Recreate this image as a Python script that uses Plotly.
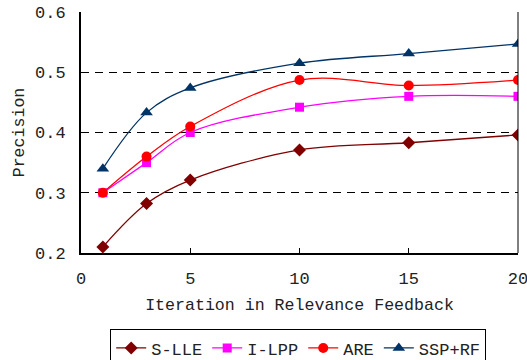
import plotly.graph_objects as go

iterations = [1, 3, 5, 10, 15, 20]
s_lle = [0.21, 0.282, 0.321, 0.371, 0.383, 0.396]
i_lpp = [0.30, 0.35, 0.40, 0.442, 0.46, 0.46]
are = [0.30, 0.36, 0.41, 0.487, 0.478, 0.487]
ssp_rf = [0.34, 0.433, 0.474, 0.515, 0.531, 0.547]

series = [
    ("S-LLE", s_lle, "#800000", "diamond", 10),
    ("I-LPP", i_lpp, "#FF00FF", "square", 9),
    ("ARE", are, "#FF0000", "circle", 10),
    ("SSP+RF", ssp_rf, "#003366", "triangle-up", 11),
]

FONT = "Liberation Mono"

fig = go.Figure()
for name, vals, color, sym, size in series:
    fig.add_trace(go.Scatter(
        x=iterations, y=vals, name=name, mode="lines+markers",
        line=dict(color=color, width=1.3, shape="spline", smoothing=1),
        marker=dict(symbol=sym, size=size, color=color),
    ))

fig.update_layout(
    width=527, height=360,
    margin=dict(l=81, r=9, t=12, b=107, autoexpand=False),
    paper_bgcolor="white", plot_bgcolor="white",
    font=dict(family=FONT, size=17, color="#222222"),
    showlegend=True,
    legend=dict(
        orientation="h", x=0.497, xanchor="center",
        yref="container", y=0.085, yanchor="top",
        bordercolor="black", borderwidth=1,
        font=dict(family=FONT, size=17, color="#222222"),
        itemwidth=30, tracegroupgap=0,
    ),
    xaxis=dict(
        range=[0, 20], tickvals=[0, 5, 10, 15, 20],
        showgrid=False, zeroline=False, automargin=False,
        showline=True, linecolor="black", linewidth=2,
        ticks="inside", ticklen=5, tickcolor="black",
        ticklabelstandoff=9, ticklabeloverflow="allow",
        title=dict(text="Iteration in Relevance Feedback", standoff=10,
                   font=dict(family=FONT, size=16.6)),
    ),
    yaxis=dict(
        range=[0.2, 0.6], tickvals=[0.2, 0.3, 0.4, 0.5, 0.6],
        ticktext=["0.2", "0.3", "0.4", "0.5", "0.6"],
        showgrid=True, gridcolor="black", gridwidth=1, griddash="8px,6px",
        zeroline=False, automargin=False,
        showline=True, linecolor="black", linewidth=2,
        ticks="", ticklabelstandoff=10, ticklabeloverflow="allow",
        title=dict(text="Precision", standoff=6,
                   font=dict(family=FONT, size=16.6)),
    ),
    shapes=[
        dict(type="line", xref="paper", yref="paper", x0=1, x1=1, y0=0, y1=1,
             line=dict(color="black", width=1)),
    ],
)

fig.write_html("out.html")
